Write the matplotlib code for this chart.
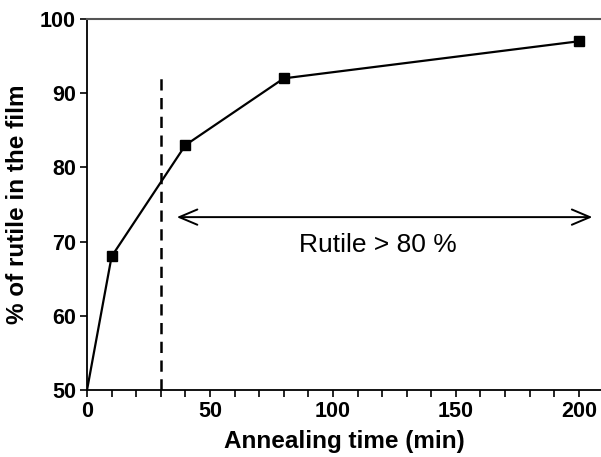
import matplotlib.pyplot as plt
import numpy as np

plt.rcParams["font.family"] = ["Liberation Sans", "DejaVu Sans"]

time_min = np.array([0, 10, 40, 80, 200])
rutile_pct = np.array([50, 68, 83, 92, 97])

fig = plt.figure(figsize=(6.01, 4.57), dpi=100)
ax = fig.add_axes([0.1448, 0.1466, 0.8552, 0.8118])

ax.plot(time_min, rutile_pct, "-", color="black", linewidth=1.6, zorder=3)
ax.plot(time_min[1:], rutile_pct[1:], "s", color="black", markersize=7.5, zorder=4)

# anatase/rutile boundary
ax.plot([30, 30], [50, 92], "--", color="black", linewidth=1.8, dashes=(4.5, 3))

ax.annotate("", xy=(36.5, 73.3), xytext=(205.5, 73.3),
            arrowprops=dict(arrowstyle="<->,head_length=1.3,head_width=0.55",
                            color="black", linewidth=1.4, shrinkA=0, shrinkB=0))
ax.text(118.3, 69.5, "Rutile > 80 %", ha="center", va="center", fontsize=19)

ax.set_xlim(0, 209)
ax.set_ylim(50, 100)
ax.set_xticks([0, 50, 100, 150, 200])
ax.set_xticks(np.arange(0, 210, 10), minor=True)
ax.set_yticks([50, 60, 70, 80, 90, 100])

ax.tick_params(axis="both", labelsize=15.5, width=1.2, length=5, direction="out", pad=3)
ax.tick_params(axis="x", which="minor", width=1.2, length=5)
for lbl in ax.get_xticklabels() + ax.get_yticklabels():
    lbl.set_fontweight("bold")

ax.spines["right"].set_visible(False)
ax.spines["top"].set_color("#555555")
ax.spines["top"].set_linewidth(1.5)
ax.spines["left"].set_linewidth(1.3)
ax.spines["bottom"].set_linewidth(1.3)

ax.set_xlabel("Annealing time (min)", fontsize=17.5, fontweight="bold", labelpad=6)
ax.set_ylabel("% of rutile in the film", fontsize=17.5, fontweight="bold", labelpad=8)

fig.savefig("out.png", dpi=100)
